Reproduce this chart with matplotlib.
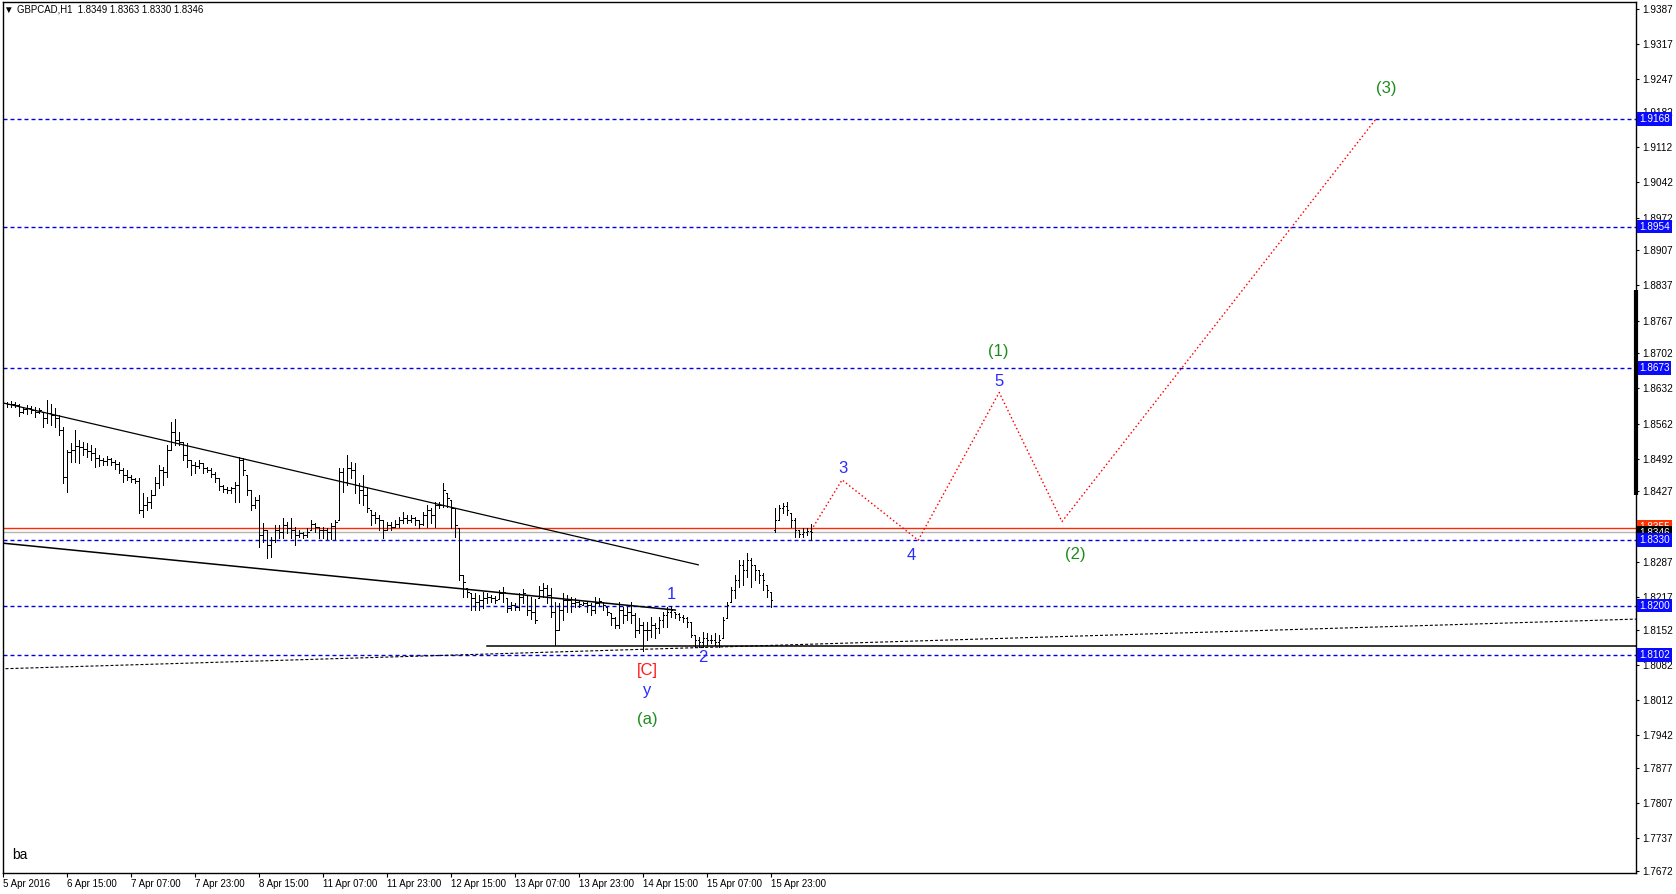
import matplotlib
matplotlib.use("Agg")
import numpy as np
import matplotlib.pyplot as plt
from matplotlib.transforms import blended_transform_factory

plt.rcParams['font.family'] = ['Liberation Sans', 'DejaVu Sans']
plt.rcParams['lines.scale_dashes'] = False

# GBPCAD H1 bars, 5 Apr 23:00 .. 18 Apr 09:00 (bar index = hour count)
opens = [1.8619, 1.8603, 1.8601, 1.8601, 1.8599, 1.8585, 1.8591, 1.8593, 1.8589, 1.8585,
         1.8585, 1.8573, 1.8583, 1.8579, 1.8573, 1.8549, 1.8456, 1.8506, 1.8510, 1.8517,
         1.8515, 1.8511, 1.8508, 1.8504, 1.8494, 1.8490, 1.8488, 1.8492, 1.8486, 1.8482,
         1.8470, 1.8460, 1.8456, 1.8452, 1.8448, 1.8390, 1.8400, 1.8406, 1.8420, 1.8444,
         1.8470, 1.8466, 1.8510, 1.8545, 1.8529, 1.8525, 1.8500, 1.8490, 1.8480, 1.8478,
         1.8484, 1.8474, 1.8470, 1.8462, 1.8454, 1.8438, 1.8432, 1.8430, 1.8434, 1.8440,
         1.8490, 1.8460, 1.8430, 1.8400, 1.8410, 1.8340, 1.8350, 1.8320, 1.8330, 1.8350,
         1.8346, 1.8360, 1.8354, 1.8350, 1.8340, 1.8344, 1.8340, 1.8350, 1.8362, 1.8356,
         1.8350, 1.8350, 1.8346, 1.8358, 1.8370, 1.8466, 1.8446, 1.8474, 1.8470, 1.8440,
         1.8430, 1.8420, 1.8390, 1.8380, 1.8374, 1.8370, 1.8350, 1.8360, 1.8356, 1.8362,
         1.8370, 1.8374, 1.8370, 1.8374, 1.8370, 1.8362, 1.8380, 1.8390, 1.8380, 1.8400,
         1.8400, 1.8424, 1.8410, 1.8394, 1.8354, 1.8261, 1.8235, 1.8225, 1.8215, 1.8207,
         1.8211, 1.8215, 1.8217, 1.8215, 1.8213, 1.8225, 1.8215, 1.8195, 1.8201, 1.8197,
         1.8217, 1.8221, 1.8191, 1.8187, 1.8215, 1.8231, 1.8235, 1.8221, 1.8187, 1.8151,
         1.8191, 1.8211, 1.8211, 1.8205, 1.8207, 1.8201, 1.8205, 1.8201, 1.8191, 1.8205,
         1.8207, 1.8197, 1.8185, 1.8175, 1.8161, 1.8191, 1.8181, 1.8187, 1.8181, 1.8151,
         1.8161, 1.8151, 1.8151, 1.8161, 1.8155, 1.8171, 1.8181, 1.8187, 1.8187, 1.8183,
         1.8177, 1.8175, 1.8167, 1.8141, 1.8131, 1.8127, 1.8135, 1.8131, 1.8131, 1.8127,
         1.8135, 1.8175, 1.8207, 1.8231, 1.8251, 1.8281, 1.8271, 1.8291, 1.8281, 1.8271,
         1.8261, 1.8241, 1.8227, 1.8350, 1.8370, 1.8394, 1.8398, 1.8384, 1.8370, 1.8350,
         1.8342, 1.8346, 1.8349]
highs = [1.8635, 1.8605, 1.8607, 1.8605, 1.8601, 1.8595, 1.8599, 1.8597, 1.8595, 1.8593,
         1.8585, 1.8609, 1.8601, 1.8593, 1.8579, 1.8555, 1.8510, 1.8523, 1.8549, 1.8529,
         1.8525, 1.8523, 1.8519, 1.8513, 1.8500, 1.8494, 1.8498, 1.8494, 1.8490, 1.8486,
         1.8474, 1.8470, 1.8460, 1.8454, 1.8454, 1.8424, 1.8416, 1.8430, 1.8456, 1.8480,
         1.8476, 1.8519, 1.8565, 1.8571, 1.8545, 1.8525, 1.8523, 1.8490, 1.8486, 1.8490,
         1.8484, 1.8476, 1.8474, 1.8466, 1.8454, 1.8440, 1.8436, 1.8436, 1.8446, 1.8496,
         1.8494, 1.8460, 1.8430, 1.8416, 1.8420, 1.8364, 1.8350, 1.8336, 1.8360, 1.8360,
         1.8374, 1.8366, 1.8374, 1.8356, 1.8350, 1.8346, 1.8354, 1.8370, 1.8364, 1.8356,
         1.8356, 1.8354, 1.8364, 1.8370, 1.8474, 1.8474, 1.8500, 1.8486, 1.8484, 1.8444,
         1.8460, 1.8436, 1.8390, 1.8386, 1.8380, 1.8370, 1.8366, 1.8366, 1.8370, 1.8376,
         1.8386, 1.8380, 1.8380, 1.8376, 1.8370, 1.8386, 1.8400, 1.8394, 1.8406, 1.8406,
         1.8444, 1.8424, 1.8410, 1.8394, 1.8354, 1.8261, 1.8235, 1.8225, 1.8225, 1.8221,
         1.8227, 1.8225, 1.8221, 1.8219, 1.8231, 1.8237, 1.8215, 1.8207, 1.8205, 1.8225,
         1.8233, 1.8221, 1.8217, 1.8213, 1.8239, 1.8245, 1.8241, 1.8235, 1.8207, 1.8205,
         1.8225, 1.8221, 1.8217, 1.8215, 1.8211, 1.8207, 1.8207, 1.8205, 1.8217, 1.8215,
         1.8207, 1.8197, 1.8185, 1.8177, 1.8207, 1.8197, 1.8197, 1.8207, 1.8185, 1.8175,
         1.8167, 1.8167, 1.8177, 1.8165, 1.8177, 1.8187, 1.8197, 1.8199, 1.8187, 1.8185,
         1.8181, 1.8177, 1.8167, 1.8141, 1.8137, 1.8147, 1.8145, 1.8141, 1.8145, 1.8141,
         1.8177, 1.8207, 1.8237, 1.8261, 1.8291, 1.8291, 1.8305, 1.8295, 1.8281, 1.8271,
         1.8265, 1.8241, 1.8227, 1.8394, 1.8400, 1.8404, 1.8406, 1.8384, 1.8374, 1.8350,
         1.8354, 1.8354, 1.8363]
lows = [1.8593, 1.8595, 1.8595, 1.8595, 1.8577, 1.8583, 1.8581, 1.8583, 1.8575, 1.8583,
        1.8555, 1.8563, 1.8559, 1.8555, 1.8539, 1.8444, 1.8426, 1.8486, 1.8486, 1.8484,
        1.8500, 1.8496, 1.8490, 1.8476, 1.8478, 1.8480, 1.8480, 1.8480, 1.8472, 1.8464,
        1.8446, 1.8450, 1.8446, 1.8444, 1.8384, 1.8376, 1.8390, 1.8394, 1.8420, 1.8434,
        1.8440, 1.8456, 1.8510, 1.8519, 1.8519, 1.8490, 1.8476, 1.8460, 1.8464, 1.8474,
        1.8464, 1.8466, 1.8456, 1.8446, 1.8430, 1.8426, 1.8424, 1.8424, 1.8406, 1.8406,
        1.8460, 1.8420, 1.8390, 1.8394, 1.8316, 1.8326, 1.8295, 1.8297, 1.8326, 1.8334,
        1.8334, 1.8344, 1.8334, 1.8320, 1.8336, 1.8334, 1.8336, 1.8350, 1.8346, 1.8334,
        1.8334, 1.8332, 1.8332, 1.8332, 1.8370, 1.8426, 1.8440, 1.8454, 1.8424, 1.8404,
        1.8400, 1.8386, 1.8360, 1.8364, 1.8350, 1.8334, 1.8350, 1.8350, 1.8356, 1.8356,
        1.8364, 1.8364, 1.8366, 1.8360, 1.8354, 1.8360, 1.8356, 1.8364, 1.8356, 1.8394,
        1.8396, 1.8396, 1.8354, 1.8336, 1.8251, 1.8217, 1.8217, 1.8191, 1.8191, 1.8191,
        1.8195, 1.8205, 1.8207, 1.8205, 1.8213, 1.8207, 1.8187, 1.8191, 1.8191, 1.8191,
        1.8205, 1.8181, 1.8173, 1.8165, 1.8215, 1.8217, 1.8205, 1.8177, 1.8121, 1.8151,
        1.8171, 1.8187, 1.8187, 1.8197, 1.8197, 1.8201, 1.8187, 1.8181, 1.8185, 1.8201,
        1.8191, 1.8181, 1.8161, 1.8155, 1.8155, 1.8165, 1.8171, 1.8165, 1.8137, 1.8145,
        1.8110, 1.8131, 1.8137, 1.8135, 1.8145, 1.8157, 1.8157, 1.8177, 1.8175, 1.8171,
        1.8167, 1.8157, 1.8137, 1.8117, 1.8117, 1.8117, 1.8121, 1.8125, 1.8121, 1.8117,
        1.8135, 1.8175, 1.8207, 1.8215, 1.8237, 1.8241, 1.8257, 1.8237, 1.8251, 1.8245,
        1.8231, 1.8217, 1.8197, 1.8346, 1.8370, 1.8384, 1.8380, 1.8356, 1.8336, 1.8336,
        1.8336, 1.8340, 1.8330]
closes = [1.8603, 1.8601, 1.8601, 1.8599, 1.8585, 1.8591, 1.8593, 1.8589, 1.8585, 1.8589,
          1.8573, 1.8583, 1.8579, 1.8573, 1.8549, 1.8456, 1.8506, 1.8510, 1.8517, 1.8515,
          1.8511, 1.8508, 1.8504, 1.8494, 1.8490, 1.8488, 1.8492, 1.8486, 1.8482, 1.8470,
          1.8460, 1.8456, 1.8452, 1.8448, 1.8390, 1.8400, 1.8406, 1.8420, 1.8444, 1.8470,
          1.8466, 1.8510, 1.8545, 1.8529, 1.8525, 1.8500, 1.8490, 1.8480, 1.8478, 1.8484,
          1.8474, 1.8470, 1.8462, 1.8454, 1.8438, 1.8432, 1.8430, 1.8434, 1.8440, 1.8490,
          1.8470, 1.8430, 1.8400, 1.8410, 1.8340, 1.8350, 1.8320, 1.8330, 1.8350, 1.8346,
          1.8360, 1.8354, 1.8350, 1.8340, 1.8344, 1.8340, 1.8346, 1.8362, 1.8356, 1.8350,
          1.8350, 1.8346, 1.8358, 1.8366, 1.8466, 1.8446, 1.8474, 1.8470, 1.8440, 1.8430,
          1.8420, 1.8394, 1.8380, 1.8374, 1.8370, 1.8350, 1.8360, 1.8356, 1.8362, 1.8370,
          1.8374, 1.8370, 1.8374, 1.8370, 1.8362, 1.8380, 1.8390, 1.8380, 1.8400, 1.8400,
          1.8430, 1.8414, 1.8394, 1.8360, 1.8261, 1.8247, 1.8227, 1.8215, 1.8207, 1.8211,
          1.8215, 1.8217, 1.8215, 1.8211, 1.8225, 1.8227, 1.8195, 1.8201, 1.8197, 1.8217,
          1.8225, 1.8191, 1.8187, 1.8171, 1.8231, 1.8235, 1.8221, 1.8187, 1.8151, 1.8191,
          1.8211, 1.8211, 1.8205, 1.8207, 1.8203, 1.8205, 1.8201, 1.8191, 1.8205, 1.8209,
          1.8201, 1.8187, 1.8175, 1.8161, 1.8191, 1.8181, 1.8187, 1.8181, 1.8151, 1.8161,
          1.8151, 1.8151, 1.8161, 1.8155, 1.8171, 1.8181, 1.8187, 1.8191, 1.8183, 1.8177,
          1.8175, 1.8167, 1.8141, 1.8131, 1.8127, 1.8135, 1.8131, 1.8131, 1.8127, 1.8131,
          1.8171, 1.8201, 1.8231, 1.8251, 1.8281, 1.8271, 1.8291, 1.8281, 1.8271, 1.8261,
          1.8251, 1.8231, 1.8211, 1.8370, 1.8394, 1.8398, 1.8390, 1.8370, 1.8350, 1.8342,
          1.8346, 1.8348, 1.8346]

time_labels = ["5 Apr 2016", "6 Apr 15:00", "7 Apr 07:00", "7 Apr 23:00", "8 Apr 15:00",
               "11 Apr 07:00", "11 Apr 23:00", "12 Apr 15:00", "13 Apr 07:00", "13 Apr 23:00",
               "14 Apr 15:00", "15 Apr 07:00", "15 Apr 23:00"]
price_ticks = [1.9387, 1.9317, 1.9247, 1.9182, 1.9112, 1.9042, 1.8972, 1.8907, 1.8837,
               1.8767, 1.8702, 1.8632, 1.8562, 1.8492, 1.8427, 1.8357, 1.8287, 1.8217,
               1.8152, 1.8082, 1.8012, 1.7942, 1.7877, 1.7807, 1.7737, 1.7672]

# horizontal levels (blue dashed) and bid/ask
levels = [1.9168, 1.8954, 1.8673, 1.8330, 1.8200, 1.8102]
ask_price = 1.8355
bid_price = 1.8346
support_price = 1.8119

# trendlines: (bar index, price)
upper_line_x = [0, 173.75]
upper_line_y = [1.8603, 1.8281]
lower_line_x = [0, 168]
lower_line_y = [1.8324, 1.8191]
dash_line_x = [-0.75, 408.25]
dash_line_y = [1.8074, 1.8173]
support_start = 121

# projected wave path (red dotted)
wave_x = [202, 209.7, 228.75, 249, 264.7, 343.2]
wave_y = [1.8350, 1.8450, 1.8330, 1.8624, 1.8367, 1.9168]

# wave labels: text, bar index, price, colour
wave_labels = [
    ("1", 167, 1.8221, "#2b2bff"),
    ("2", 175, 1.8096, "#2b2bff"),
    ("3", 210, 1.8472, "#2b2bff"),
    ("4", 227, 1.8299, "#2b2bff"),
    ("5", 249, 1.8646, "#2b2bff"),
    ("(1)", 248.75, 1.8705, "#1e8c1e"),
    ("(2)", 268, 1.8301, "#1e8c1e"),
    ("(3)", 345.75, 1.9229, "#1e8c1e"),
    ("[C]", 161, 1.8070, "#ff1a1a"),
    ("y", 161, 1.8030, "#2b2bff"),
    ("(a)", 161, 1.7973, "#1e8c1e"),
]

W, H = 1676, 894
fig = plt.figure(figsize=(W / 100, H / 100), dpi=100)
ax = fig.add_axes([3 / W, 21 / H, 1633 / W, 871 / H])
ax.set_xlim(-0.125, 408.25)
ax.set_ylim(1.9405 - 0.000199 * 873, 1.9405 - 0.000199 * 2)

px = 72 / 100  # points per pixel

# price bars
x = np.arange(len(closes))
ax.vlines(x, lows, highs, color="black", lw=px, antialiased=False, zorder=4)
ax.hlines(opens, x - 0.3, x, color="black", lw=px, antialiased=False, zorder=4)
ax.hlines(closes, x, x + 0.3, color="black", lw=px, antialiased=False, zorder=4)

# levels
for lv in levels:
    ax.axhline(lv, color="#0000e6", lw=1.0, ls=(0, (4 * px, 3 * px)), zorder=2)
ax.axhline(ask_price, color="#ff2a00", lw=1.0, zorder=2)
ax.axhline(bid_price, color="#b4b4b4", lw=1.0, zorder=2)
ax.plot([support_start, 408.25], [support_price, support_price], color="black", lw=1.1, zorder=3)

# trendlines
ax.plot(upper_line_x, upper_line_y, color="black", lw=0.9, zorder=3)
ax.plot(lower_line_x, lower_line_y, color="black", lw=1.1, zorder=3)
ax.plot(dash_line_x, dash_line_y, color="black", lw=0.8, ls=(0, (3 * px, 2 * px)), zorder=3)

# wave projection
ax.plot(wave_x, wave_y, color="#ff0000", lw=1.0, ls=(0, (1.5 * px, 2.5 * px)), zorder=3)

for txt, bx, by, col in wave_labels:
    ax.text(bx, by, txt, color=col, fontsize=12, ha="center", va="center", zorder=5)
ax.text(4, 1.7704, "ba", color="black", fontsize=10, ha="center", va="center")

# axes styling
for s in ax.spines.values():
    s.set_linewidth(1.0)
    s.set_color("black")
ax.yaxis.tick_right()
ax.set_yticks(price_ticks)
ax.set_yticklabels([f"{p:.4f}" for p in price_ticks])
ax.tick_params(axis="y", direction="out", length=3 * px, width=0.8, pad=2, labelsize=7.2)
ax.set_xticks(np.arange(0, 16 * len(time_labels), 16))
ax.set_xticklabels(time_labels, ha="left")
ax.tick_params(axis="x", direction="out", length=4 * px, width=0.8, pad=1.5, labelsize=7)

# price boxes on the right axis
trans = blended_transform_factory(ax.transAxes, ax.transData)
bx0 = 1 + 3 / 1633
box = dict(boxstyle="square,pad=0.18", ec="none")
ax.text(bx0, ask_price + 0.0001, f"{ask_price:.4f}", transform=trans, fontsize=7.2, color="white",
        va="center", ha="left", bbox=dict(box, fc="#ff3300"), zorder=6, clip_on=False)
ax.text(bx0, bid_price - 0.0002, f"{bid_price:.4f}", transform=trans, fontsize=7.2, color="white",
        va="center", ha="left", bbox=dict(box, fc="black"), zorder=7, clip_on=False)
for lv in levels:
    ax.text(bx0, lv, f"{lv:.4f}", transform=trans, fontsize=7.2, color="white", va="center",
            ha="left", bbox=dict(box, fc="#0a0aff"), zorder=8, clip_on=False)
ax.plot([1.0, 1.0], [1.8420, 1.8828], transform=trans, color="black", lw=3.0,
        solid_capstyle="butt", clip_on=False, zorder=9)

fig.text(3 / W, 1 - 10 / H, "\u25bc", fontsize=7, va="center", ha="left")
fig.text(17 / W, 1 - 10 / H, "GBPCAD,H1  1.8349 1.8363 1.8330 1.8346", fontsize=6.9,
         va="center", ha="left")

fig.savefig("out.png", dpi=100)
